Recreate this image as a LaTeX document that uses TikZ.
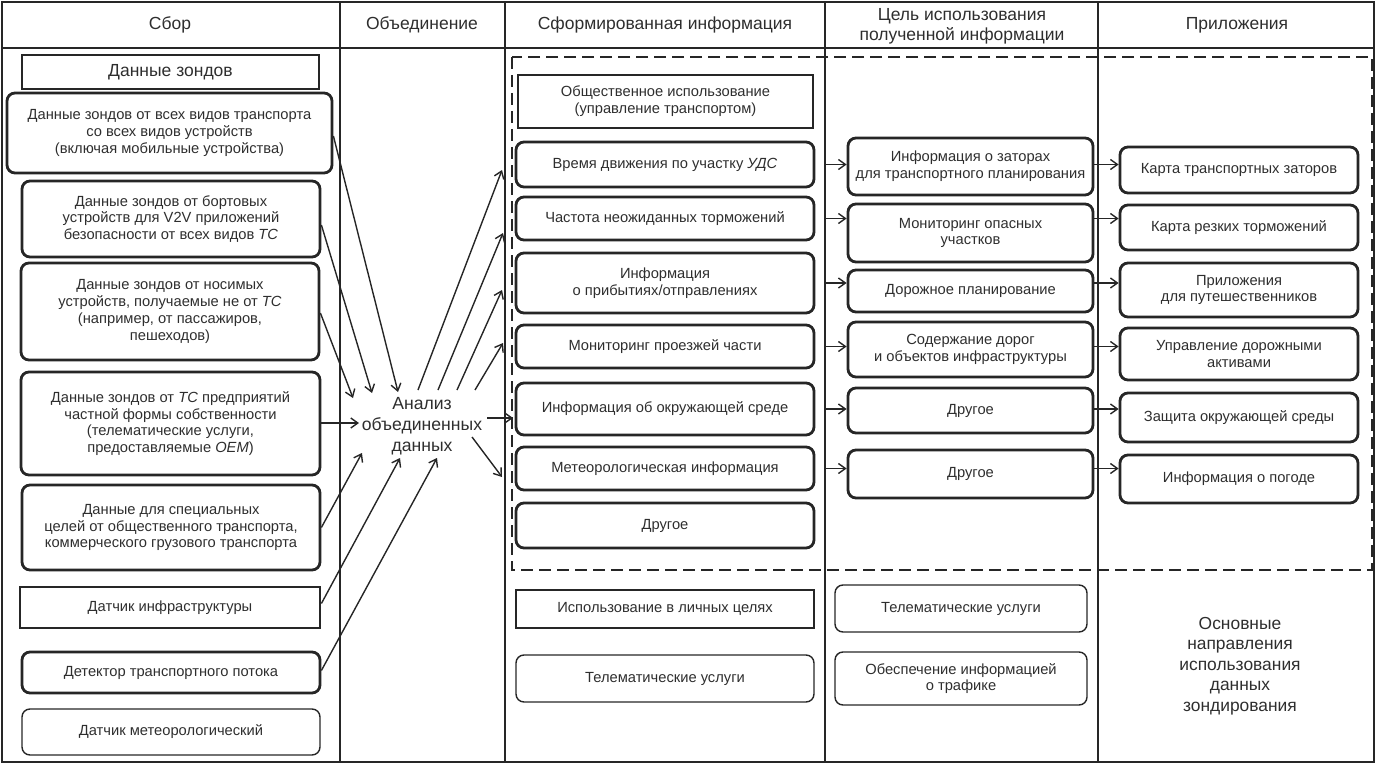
\documentclass[tikz,border=0pt]{standalone}
\usepackage{fontspec}
\setmainfont{Liberation Sans}
\usetikzlibrary{arrows.meta}
\definecolor{lc}{HTML}{262626}
\definecolor{tc}{HTML}{2E2E2E}
\begin{document}
\begin{tikzpicture}[x=1pt,y=-1pt,
  base/.style={draw=lc,text=tc,align=center,inner sep=0pt,font=\fontsize{14.7}{16.8}\selectfont},
  thickbox/.style={base,line width=2.8pt,rounded corners=8pt},
  thinbox/.style={base,line width=1.4pt,rounded corners=8pt},
  sqthin/.style={base,line width=1.4pt},
  sqthick/.style={base,line width=2.8pt},
  hdr/.style={text=tc,align=center,font=\fontsize{17.5}{20}\selectfont},
  arr/.style={draw=lc,line width=1.4pt,-{Straight Barb[length=7pt,width=10pt]}},
  frame/.style={draw=lc,line width=1.7pt}]
\useasboundingbox (0,0) rectangle (1376,765);
% frame and columns
\draw[frame] (2,2) rectangle (1374,762);
\draw[frame] (2,48) -- (1374,48);
\coordinate (d1) at (340,0);
\coordinate (d2) at (505,0);
\coordinate (d3) at (825,0);
\coordinate (d4) at (1098,0);
\foreach \x in {340,505,825,1098} \draw[frame] (\x,2) -- (\x,762);
% headers
\node[hdr] (h1) at (170,25) {Сбор};
\node[hdr] (h2) at (422,25) {Объединение};
\node[hdr] (h3) at (665,25) {Сформированная информация};
\node[hdr] (h4) at (962,26) {Цель использования\\полученной информации};
\node[hdr] (h5) at (1237,25) {Приложения};
% dashed region
\draw[draw=lc,line width=2.8pt,dash pattern=on 12pt off 6pt] (512,57) rectangle (1372,570);
% left column
\node[sqthin,minimum width=297pt,minimum height=34pt,font=\fontsize{17.5}{20}\selectfont] (L0) at (170.5,72) {Данные зондов};
\node[thickbox,minimum width=325pt,minimum height=80pt] (L1) at (169.5,133) {Данные зондов от всех видов транспорта\\со всех видов устройств\\(включая мобильные устройства)};
\node[thickbox,minimum width=298pt,minimum height=76pt] (L2) at (171,219) {Данные зондов от бортовых\\устройств для V2V приложений\\безопасности от всех видов \textit{ТС}};
\node[thickbox,minimum width=298pt,minimum height=97pt] (L3) at (170,311.5) {Данные зондов от носимых\\устройств, получаемые не от \textit{ТС}\\(например, от пассажиров,\\пешеходов)};
\node[thickbox,minimum width=299pt,minimum height=103pt] (L4) at (170.5,423.5) {Данные зондов от \textit{ТС} предприятий\\частной формы собственности\\(телематические услуги,\\предоставляемые \textit{OEM})};
\node[thickbox,minimum width=298pt,minimum height=85pt] (L5) at (171,527.5) {Данные для специальных\\целей от общественного транспорта,\\коммерческого грузового транспорта};
\node[sqthick,minimum width=300pt,minimum height=41pt] (L6) at (170,607.5) {Датчик инфраструктуры};
\node[thickbox,minimum width=298pt,minimum height=41pt] (L7) at (171,672.5) {Детектор транспортного потока};
\node[thinbox,minimum width=298pt,minimum height=46pt] (L8) at (171,732) {Датчик метеорологический};
% centre
\node[text=tc,align=center,font=\fontsize{17.6}{21}\selectfont] (C) at (422,426) {Анализ\\объединенных\\данных};
% middle column
\node[sqthin,minimum width=295pt,minimum height=53pt] (M0) at (665.5,101.5) {Общественное использование\\(управление транспортом)};
\node[thickbox,minimum width=298pt,minimum height=45pt] (M1) at (665,164.5) {Время движения по участку \textit{УДС}};
\node[thickbox,minimum width=298pt,minimum height=43pt] (M2) at (665,218.5) {Частота неожиданных торможений};
\node[thickbox,minimum width=298pt,minimum height=60pt] (M3) at (665,283) {Информация\\о прибытиях/отправлениях};
\node[thickbox,minimum width=298pt,minimum height=43pt] (M4) at (665,346.5) {Мониторинг проезжей части};
\node[thickbox,minimum width=298pt,minimum height=52pt] (M5) at (665,409) {Информация об окружающей среде};
\node[thickbox,minimum width=298pt,minimum height=43pt] (M6) at (665,468.5) {Метеорологическая информация};
\node[thickbox,minimum width=298pt,minimum height=45pt] (M7) at (665,525.5) {Другое};
\node[sqthin,minimum width=298pt,minimum height=38pt] (M8) at (665,609) {Использование в личных целях};
\node[thinbox,minimum width=298pt,minimum height=47pt] (M9) at (665,678.5) {Телематические услуги};
% purpose column
\node[thickbox,minimum width=245pt,minimum height=57pt] (P1) at (970.5,166.5) {Информация о заторах\\для транспортного планирования};
\node[thickbox,minimum width=245pt,minimum height=58pt] (P2) at (970.5,233) {Мониторинг опасных\\участков};
\node[thickbox,minimum width=245pt,minimum height=42pt] (P3) at (970.5,291) {Дорожное планирование};
\node[thickbox,minimum width=245pt,minimum height=55pt] (P4) at (970.5,349.5) {Содержание дорог\\и объектов инфраструктуры};
\node[thickbox,minimum width=245pt,minimum height=45pt] (P5) at (970.5,410.5) {Другое};
\node[thickbox,minimum width=245pt,minimum height=48pt] (P6) at (970.5,474) {Другое};
\node[thinbox,minimum width=252pt,minimum height=47pt] (P7) at (961,608.5) {Телематические услуги};
\node[thinbox,minimum width=252pt,minimum height=53pt] (P8) at (961,678.5) {Обеспечение информацией\\о трафике};
% applications column
\node[thickbox,minimum width=238pt,minimum height=46pt] (A1) at (1239,170) {Карта транспортных заторов};
\node[thickbox,minimum width=238pt,minimum height=45pt] (A2) at (1239,227.5) {Карта резких торможений};
\node[thickbox,minimum width=238pt,minimum height=54pt] (A3) at (1239,290) {Приложения\\для путешественников};
\node[thickbox,minimum width=238pt,minimum height=52pt] (A4) at (1239,354) {Управление дорожными\\активами};
\node[thickbox,minimum width=238pt,minimum height=49pt] (A5) at (1239,417.5) {Защита окружающей среды};
\node[thickbox,minimum width=238pt,minimum height=48pt] (A6) at (1239,479) {Информация о погоде};
\node[text=tc,align=center,font=\fontsize{17.4}{20.5}\selectfont] (N) at (1240,666) {Основные\\направления\\использования\\данных\\зондирования};
% free ends around the centre
\coordinate (i1) at (398,392);
\coordinate (i2) at (372,393);
\coordinate (i3) at (353,398);
\coordinate (i4) at (359,423);
\coordinate (i5) at (362,453);
\coordinate (i6) at (400,458);
\coordinate (i7) at (437,458);
\coordinate (s1) at (418,390);
\coordinate (s2) at (438,390);
\coordinate (s3) at (457,390);
\coordinate (s4) at (475,390);
\coordinate (s5) at (487,418);
\coordinate (s6) at (472,437);
\coordinate (e1) at (502,170);
\coordinate (e2) at (503,233);
\coordinate (e3) at (502,290);
\coordinate (e4) at (503,343);
\coordinate (e5) at (513,418);
\coordinate (e6) at (502,477);
% input arrows
\draw[arr] ([yshift=-3pt]L1.east) -- (i1);
\draw[arr] ([yshift=-6pt]L2.east) -- (i2);
\draw[arr] ([yshift=-1.5pt]L3.east) -- (i3);
\draw[arr] (L4.east |- i4) -- (i4);
\draw[arr] (L5.east) -- (i5);
\draw[arr] ([yshift=4pt]L6.east) -- (i6);
\draw[arr] ([yshift=2pt]L7.east) -- (i7);
% output arrows
\foreach \k in {1,...,6} \draw[arr] (s\k) -- (e\k);
% purpose arrows
\foreach \k in {1,...,6} {
  \draw[arr] (d3 |- M\k.east) -- (P\k.west |- M\k.east);
  \draw[arr] (P\k.east |- M\k.east) -- (A\k.west |- M\k.east);
}
\end{tikzpicture}
\end{document}
